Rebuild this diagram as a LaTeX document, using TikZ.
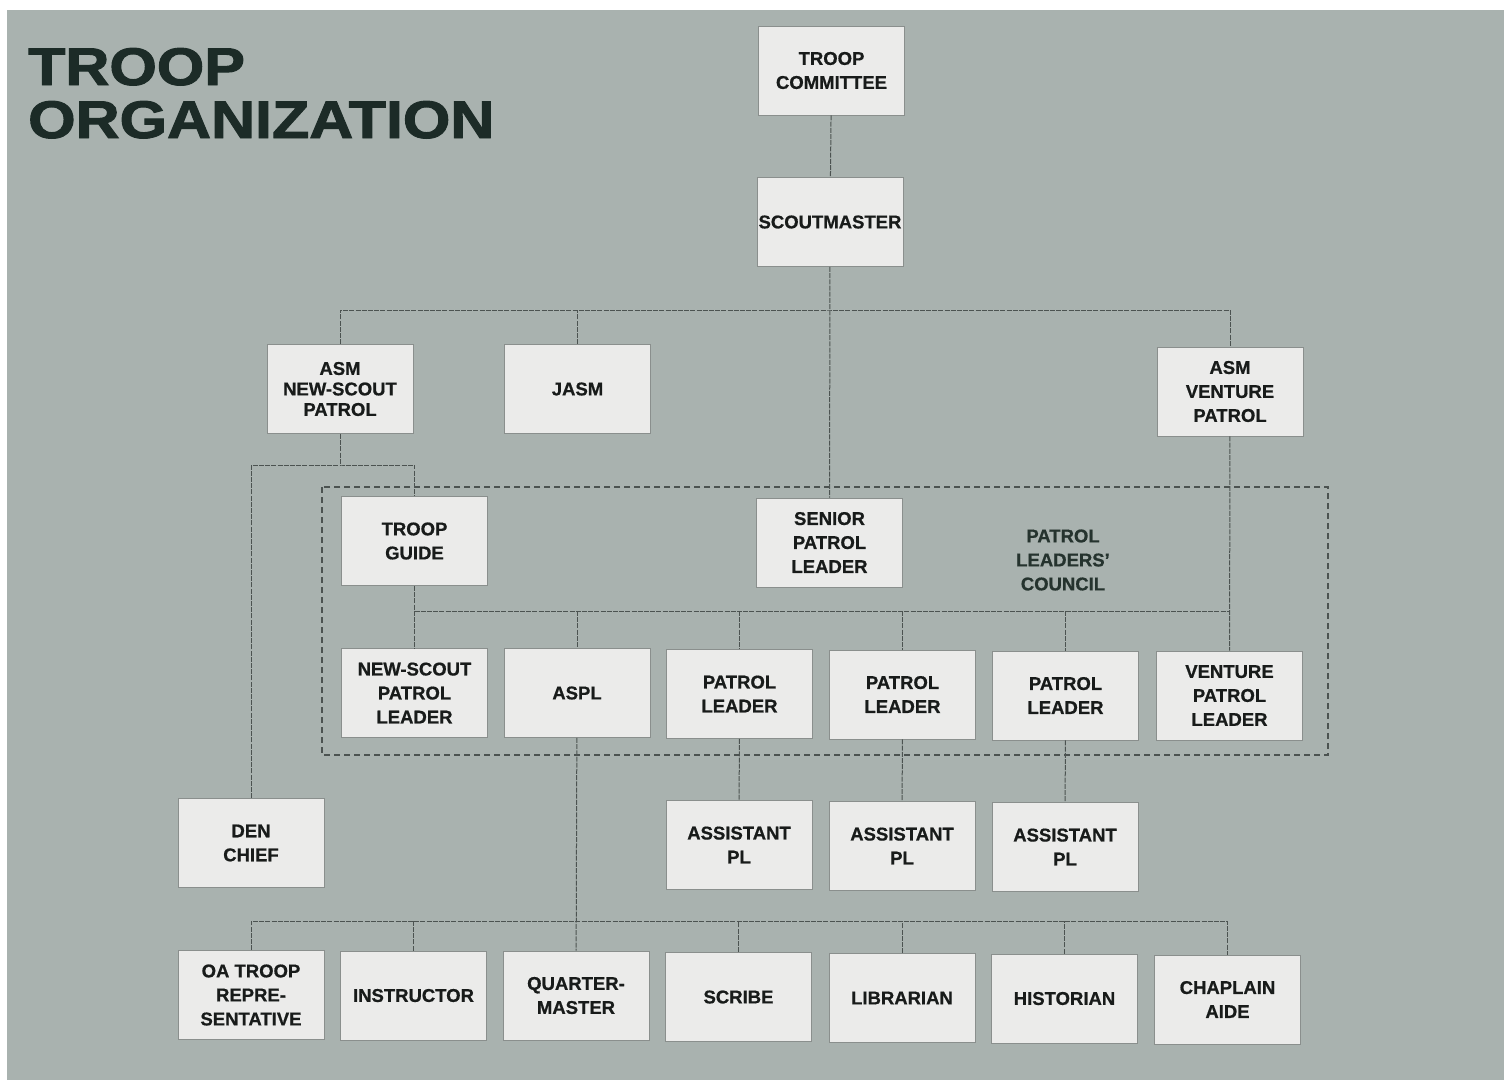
\documentclass[tikz,border=0pt]{standalone}
\usepackage{fontspec}
\usepackage{graphicx}
\setmainfont[BoldFeatures={FakeBold=0.7}]{Liberation Sans}
\newfontfamily\titlefont[BoldFeatures={FakeBold=1.8}]{Liberation Sans}
\definecolor{bgc}{HTML}{A9B2AF}
\definecolor{boxc}{HTML}{EBEBEA}
\definecolor{boxedge}{HTML}{8A8F8D}
\definecolor{linec}{HTML}{4C5351}
\definecolor{txtc}{HTML}{181B1A}
\definecolor{titlec}{HTML}{1C2B27}
\definecolor{plcc}{HTML}{25332E}
\begin{document}
\begin{tikzpicture}[x=1pt,y=-1pt,
  box/.style={draw=boxedge,line width=0.8pt,fill=boxc,minimum width=146pt,minimum height=89pt,
    inner sep=0pt,align=center,text=txtc,font=\fontsize{18.5}{24}\selectfont\bfseries},
  conn/.style={draw=linec,line width=1pt,dash pattern=on 5pt off 1.2pt},
  plcbox/.style={draw=linec,line width=1.3pt,dash pattern=on 6pt off 4pt},
  titletext/.style={anchor=base west,inner sep=0pt,text=titlec,font=\fontsize{53}{53}\titlefont\bfseries}]
\useasboundingbox (0,0) rectangle (1508,1080);
\fill[white] (0,0) rectangle (1508,1080);
\fill[bgc] (7,10) rectangle (1504,1080);
% title
\node[titletext] (t1) at (28,85) {\scalebox{1.15}[1]{TROOP}};
\node[titletext] (t2) at (28,138) {\scalebox{1.15}[1]{ORGANIZATION}};
% PLC dashed frame
\draw[plcbox] (322,487) rectangle (1328,755);
\node[text=plcc,align=center,font=\fontsize{18.5}{24}\selectfont\bfseries] (plc) at (1063,560) {PATROL\\LEADERS'\\COUNCIL};
% nodes
\node[box] (tc) at (831.5,70.5) {TROOP\\COMMITTEE};
\node[box] (sm) at (830,222) {SCOUTMASTER};
\node[box,font=\fontsize{18.5}{20.5}\selectfont\bfseries] (asmn) at (340,389) {ASM\\NEW-SCOUT\\PATROL};
\node[box] (jasm) at (577.5,389) {JASM};
\node[box] (asmv) at (1230,391.5) {ASM\\VENTURE\\PATROL};
\node[box] (tg) at (414.5,541) {TROOP\\GUIDE};
\node[box] (spl) at (829.5,542.5) {SENIOR\\PATROL\\LEADER};
\node[box] (nspl) at (414.5,693) {NEW-SCOUT\\PATROL\\LEADER};
\node[box] (aspl) at (577,693) {ASPL};
\node[box] (pl1) at (739.5,694) {PATROL\\LEADER};
\node[box] (pl2) at (902.5,694.5) {PATROL\\LEADER};
\node[box] (pl3) at (1065.5,695.5) {PATROL\\LEADER};
\node[box] (vpl) at (1229.5,695.5) {VENTURE\\PATROL\\LEADER};
\node[box] (den) at (251,843) {DEN\\CHIEF};
\node[box] (apl1) at (739,845) {ASSISTANT\\PL};
\node[box] (apl2) at (902,846) {ASSISTANT\\PL};
\node[box] (apl3) at (1065,847) {ASSISTANT\\PL};
\node[box] (oa) at (251,995) {OA TROOP\\REPRE-\\SENTATIVE};
\node[box] (ins) at (413.5,995.5) {INSTRUCTOR};
\node[box] (qm) at (576,995.5) {QUARTER-\\MASTER};
\node[box] (scr) at (738.5,997) {SCRIBE};
\node[box] (lib) at (902,998) {LIBRARIAN};
\node[box] (his) at (1064.5,998.5) {HISTORIAN};
\node[box] (cha) at (1227.5,999.5) {CHAPLAIN\\AIDE};
% bus coordinates
\coordinate (b1) at (830,310);
\coordinate (b2) at (340,465);
\coordinate (b3) at (829.5,611);
\coordinate (b4) at (576,921);
% connectors
\draw[conn] (tc) -- (sm);
\draw[conn] (sm) -- (spl);
\draw[conn] (asmn.north) |- (b1) -| (asmv.north);
\draw[conn] (jasm.north) -- (jasm.north |- b1);
\draw[conn] (asmn.south) -- (b2);
\draw[conn] (den.north) |- (b2) -| (tg.north);
\draw[conn] (tg) -- (nspl);
\draw[conn] (tg.south |- b3) -- (vpl.north |- b3);
\draw[conn] (aspl.north |- b3) -- (aspl.north);
\draw[conn] (pl1.north |- b3) -- (pl1.north);
\draw[conn] (pl2.north |- b3) -- (pl2.north);
\draw[conn] (pl3.north |- b3) -- (pl3.north);
\draw[conn] (asmv) -- (vpl);
\draw[conn] (pl1) -- (apl1);
\draw[conn] (pl2) -- (apl2);
\draw[conn] (pl3) -- (apl3);
\draw[conn] (aspl) -- (qm);
\draw[conn] (oa.north) |- (b4) -| (cha.north);
\draw[conn] (ins.north) -- (ins.north |- b4);
\draw[conn] (scr.north) -- (scr.north |- b4);
\draw[conn] (lib.north) -- (lib.north |- b4);
\draw[conn] (his.north) -- (his.north |- b4);
\end{tikzpicture}
\end{document}
